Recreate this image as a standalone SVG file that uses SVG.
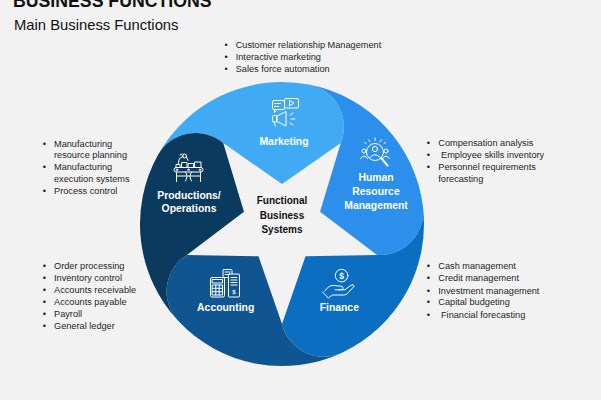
<svg xmlns="http://www.w3.org/2000/svg" width="601" height="400" viewBox="0 0 601 400">
<style>
.lbl{font-family:"Liberation Sans",Arial,sans-serif;font-weight:bold;font-size:10.4px;fill:#ffffff;text-anchor:middle}
.ctr{font-family:"Liberation Sans",Arial,sans-serif;font-weight:bold;font-size:10px;fill:#111111;text-anchor:middle}
.bul{font-family:"Liberation Sans",Arial,sans-serif;font-size:9.2px;fill:#1e1e1e}
.ico{fill:none;stroke:#ffffff;stroke-width:1;stroke-linecap:round;stroke-linejoin:round}
.icf{fill:#ffffff;stroke:none}
.sym{font-family:"Liberation Sans",Arial,sans-serif;font-weight:bold;fill:#ffffff;text-anchor:middle}
</style>
<rect x="0" y="0" width="601" height="400" fill="#f2f2f2"/>
<g id="title">
<text x="13" y="6.5" style="font-family:'Liberation Sans',Arial,sans-serif;font-weight:bold;font-size:17.7px;fill:#111111">BUSINESS FUNCTIONS</text>
<text x="14" y="29.7" style="font-family:'Liberation Sans',Arial,sans-serif;font-size:14.8px;fill:#111111">Main Business Functions</text>
</g>

<g id="node-marketing">
<path fill="#40aaf5" d="M157.80,155.16 A142,142 0 0 1 309.10,84.61 A43.07,43.07 0 0 1 340.78,143.10 L282,184 L223.22,143.10 A43.07,43.07 0 0 0 157.80,155.16 Z"/>
<g class="ico">
<rect x="272.5" y="100.5" width="12" height="9" rx="1.5"/>
<path d="M274.5,109.5 L274.5,112.5 L277.5,109.5"/>
<path d="M274.5,103.5 H280.5 M274.5,106.5 H278.5"/>
<rect x="284.5" y="98.5" width="14" height="9.5" rx="1.5"/>
<path d="M289.5,100.8 L289.5,105.8 L293.6,103.3 Z"/>
<path d="M277,116 L286,111.5 L286,126 L277,121.5 Z"/>
<rect x="272.5" y="115.5" width="4.5" height="6.5" rx="1.2"/>
<path d="M274,122 L275.5,126"/>
<path d="M290,115 L293,113 M291,119 H295 M290,123 L293,125"/>
</g>
<text class="lbl" x="284" y="144.8">Marketing</text>
<g class="bul">
<text x="224.4" y="48">•</text><text x="235.7" y="48">Customer relationship Management</text>
<text x="224.4" y="59.8">•</text><text x="235.7" y="59.8">Interactive marketing</text>
<text x="224.4" y="71.5">•</text><text x="235.7" y="71.5">Sales force automation</text>
</g>
</g>

<g id="node-hr">
<path fill="#2c8feb" d="M309.10,84.61 A142,142 0 0 1 422.94,206.69 A43.07,43.07 0 0 1 377.11,254.90 L320.04,211.64 L340.78,143.10 A43.07,43.07 0 0 0 309.10,84.61 Z"/>
<g class="ico">
<circle cx="364" cy="151" r="2"/>
<path d="M360.5,158.5 Q364,153.5 367.5,158.5"/>
<circle cx="386" cy="151" r="2"/>
<path d="M382.5,158.5 Q386,153.5 389.5,158.5"/>
<circle cx="375" cy="152" r="8.5" fill="#2c8feb"/>
<circle cx="375" cy="149" r="2.6"/>
<path d="M369.8,157.5 Q375,151.8 380.2,157.5"/>
<path d="M381.2,158.2 L387.5,165.5" style="stroke-width:2"/>
<path d="M375,138 V140.5 M368.5,139.8 L370,141.8 M381.5,139.8 L380,141.8 M364.5,142.5 L366,143.5 M385.5,142.5 L384,143.5"/>
</g>
<text class="lbl" x="376" y="180.5">Human</text>
<text class="lbl" x="376" y="194.6">Resource</text>
<text class="lbl" x="376" y="208.8">Management</text>
<g class="bul">
<text x="426.7" y="145.6">•</text><text x="438.3" y="145.6">Compensation analysis</text>
<text x="426.7" y="157.8">•</text><text x="441" y="157.8">Employee skills inventory</text>
<text x="426.7" y="169.9">•</text><text x="438.3" y="169.9">Personnel requirements</text>
<text x="438.3" y="181.8">forecasting</text>
</g>
</g>

<g id="node-finance">
<path fill="#0b6ec1" d="M422.94,206.69 A142,142 0 0 1 342.01,352.70 A43.07,43.07 0 0 1 282,324 L305.51,256.36 L377.11,254.90 A43.07,43.07 0 0 0 422.94,206.69 Z"/>
<g class="ico">
<circle cx="341.6" cy="275.6" r="6.3"/>
<path d="M324.5,291 L328.5,287 Q331,285 334,285.5 L341,286.2 Q343.2,286.5 343,288.3 Q342.8,289.8 340.8,289.8 L335,289.8"/>
<path d="M339,289.8 L345,289.8 L351,285.2 Q353.6,283.8 354.2,286.2 L347.5,293.5 Q346,295 343.5,295 L332.5,295 L329.5,297"/>
<path d="M322.5,292 L328.5,298.2"/>
</g>
<text class="sym" x="341.6" y="278.6" style="font-size:8.5px">$</text>
<text class="lbl" x="339.3" y="311">Finance</text>
<g class="bul">
<text x="426.7" y="269.3">•</text><text x="438.3" y="269.3">Cash management</text>
<text x="426.7" y="281.4">•</text><text x="438.3" y="281.4">Credit management</text>
<text x="426.7" y="293.5">•</text><text x="438.3" y="293.5">Investment management</text>
<text x="426.7" y="305.4">•</text><text x="438.3" y="305.4">Capital budgeting</text>
<text x="426.7" y="317.5">•</text><text x="441" y="317.5">Financial forecasting</text>
</g>
</g>

<g id="node-accounting">
<path fill="#0f5592" d="M342.01,352.70 A142,142 0 0 1 178.15,320.84 A43.07,43.07 0 0 1 186.89,254.90 L258.49,256.36 L282,324 A43.07,43.07 0 0 0 342.01,352.70 Z"/>
<g class="ico">
<rect x="223" y="269.5" width="9" height="8" rx="0.8"/>
<path d="M225,272 H230 M225,274.5 H230"/>
<rect x="228.5" y="274" width="11" height="23" rx="1" fill="#0f5592"/>
<path d="M231,277.5 H237 M231,280 H237 M231,282.5 H237 M231,285 H237"/>
<rect x="210.5" y="277.5" width="14" height="19.5" rx="1.5" fill="#0f5592"/>
<rect x="212.5" y="279.5" width="10" height="3.5"/>
<rect x="212.5" y="285" width="10" height="10"/>
<path d="M215.8,285 V295 M219.2,285 V295 M212.5,288.3 H222.5 M212.5,291.7 H222.5"/>
</g>
<text class="sym" x="234" y="294" style="font-size:6px">$</text>
<text class="lbl" x="225.7" y="311">Accounting</text>
<g class="bul">
<text x="42.7" y="269.3">•</text><text x="54" y="269.3">Order processing</text>
<text x="42.7" y="281.3">•</text><text x="54" y="281.3">Inventory control</text>
<text x="42.7" y="293.3">•</text><text x="54" y="293.3">Accounts receivable</text>
<text x="42.7" y="305.3">•</text><text x="54" y="305.3">Accounts payable</text>
<text x="42.7" y="317.3">•</text><text x="54" y="317.3">Payroll</text>
<text x="42.7" y="329.3">•</text><text x="54" y="329.3">General ledger</text>
</g>
</g>

<g id="node-productions">
<path fill="#0b3a5f" d="M178.15,320.84 A142,142 0 0 1 157.80,155.16 A43.07,43.07 0 0 1 223.22,143.10 L243.96,211.64 L186.89,254.90 A43.07,43.07 0 0 0 178.15,320.84 Z"/>
<g class="ico">
<rect x="174" y="167.5" width="29" height="4.5" rx="2.2"/>
<circle cx="177" cy="169.75" r="0.8"/><circle cx="188.5" cy="169.75" r="0.8"/><circle cx="200" cy="169.75" r="0.8"/>
<rect x="182" y="162.5" width="5" height="5"/>
<rect x="188.5" y="163.5" width="5" height="4"/>
<rect x="195" y="162" width="6" height="5.5"/>
<path d="M176.5,172 V181.5 M200.5,172 V181.5 M176.5,176 H200.5"/>
<path d="M185.5,172 Q188.5,176.5 185.5,181 M191.5,172 Q188.5,176.5 191.5,181"/>
<path d="M176,167.5 V164.5 H180 V167.5"/>
<path d="M178,164.5 L179.5,158.5 L183.5,156"/>
<circle cx="184.5" cy="156" r="2"/>
<path d="M186.5,157 L188,160.5 M182,154 L180,155"/>
</g>
<text class="lbl" x="189" y="198.6">Productions/</text>
<text class="lbl" x="189" y="211.6">Operations</text>
<g class="bul">
<text x="42.7" y="146.5">•</text><text x="54" y="146.5">Manufacturing</text>
<text x="54" y="158.3">resource planning</text>
<text x="42.7" y="170.2">•</text><text x="54" y="170.2">Manufacturing</text>
<text x="54" y="182">execution systems</text>
<text x="42.7" y="193.9">•</text><text x="54" y="193.9">Process control</text>
</g>
</g>

<g id="node-center">
<text class="ctr" x="282" y="204.3">Functional</text>
<text class="ctr" x="282" y="218.6">Business</text>
<text class="ctr" x="282" y="232.8">Systems</text>
</g>
</svg>
